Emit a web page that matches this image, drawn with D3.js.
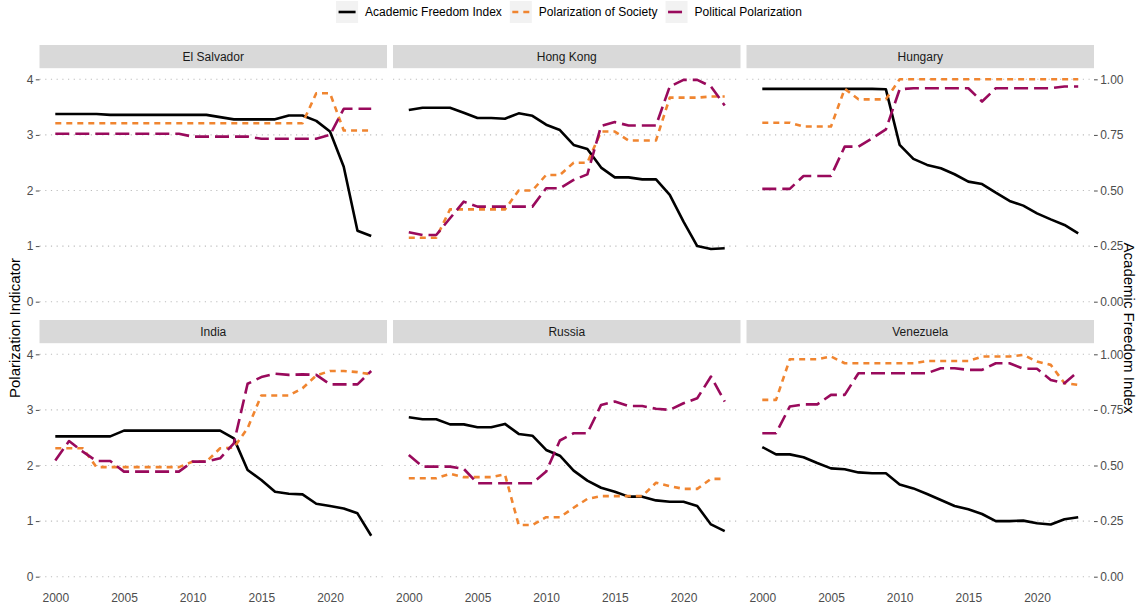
<!DOCTYPE html>
<html>
<head>
<meta charset="utf-8">
<script src="https://cdn.jsdelivr.net/npm/d3@7/dist/d3.min.js"></script>
<style>
  html, body { margin: 0; padding: 0; background: #fff; }
  svg { display: block; font-family: "Liberation Sans", Arial, sans-serif; }
</style>
</head>
<body>
<svg id="chart" width="1138" height="610"></svg>
<script>
// ---------------- DATA ----------------
const years = [2000,2001,2002,2003,2004,2005,2006,2007,2008,2009,2010,2011,2012,2013,2014,2015,2016,2017,2018,2019,2020,2021,2022,2023];
const countries = ["El Salvador", "Hong Kong", "Hungary", "India", "Russia", "Venezuela"];
const seriesNames = ["Academic Freedom Index", "Polarization of Society", "Political Polarization"];
const yTicksLeft = [0, 1, 2, 3, 4];
const yTicksRight = [0, 0.25, 0.5, 0.75, 1];
const xTicks = [2000, 2005, 2010, 2015, 2020];

// Academic Freedom Index (0-1, right axis)
const afiElSalvador = [0.844,0.844,0.844,0.844,0.840,0.840,0.840,0.840,0.840,0.840,0.840,0.840,0.830,0.820,0.820,0.820,0.820,0.837,0.837,0.813,0.765,0.607,0.319,0.295];
const afiHongKong   = [0.862,0.872,0.872,0.872,0.850,0.826,0.826,0.823,0.847,0.836,0.796,0.772,0.705,0.687,0.603,0.559,0.559,0.550,0.550,0.480,0.360,0.250,0.237,0.240];
const afiHungary    = [0.957,0.957,0.957,0.957,0.957,0.957,0.957,0.957,0.957,0.955,0.705,0.642,0.615,0.600,0.573,0.540,0.529,0.490,0.453,0.432,0.397,0.370,0.345,0.307];
const afiIndia      = [0.631,0.631,0.631,0.631,0.631,0.657,0.657,0.657,0.657,0.657,0.657,0.657,0.657,0.622,0.480,0.435,0.382,0.373,0.370,0.328,0.318,0.307,0.285,0.184];
const afiRussia     = [0.717,0.708,0.708,0.685,0.685,0.672,0.672,0.687,0.642,0.634,0.570,0.544,0.477,0.432,0.400,0.382,0.360,0.360,0.343,0.337,0.337,0.318,0.235,0.205];
const afiVenezuela  = [0.583,0.550,0.550,0.537,0.511,0.487,0.483,0.469,0.465,0.465,0.415,0.397,0.372,0.345,0.318,0.303,0.282,0.250,0.250,0.252,0.240,0.235,0.258,0.267];

// Polarization of Society (0-4, left axis)
const socElSalvador = [3.21,3.21,3.21,3.21,3.21,3.21,3.21,3.21,3.21,3.21,3.21,3.21,3.21,3.21,3.21,3.21,3.21,3.21,3.21,3.75,3.75,3.08,3.08,3.08];
const socHongKong   = [1.15,1.15,1.15,1.66,1.66,1.66,1.66,1.66,2.00,2.00,2.28,2.28,2.50,2.50,3.06,3.06,2.90,2.90,2.90,3.67,3.67,3.67,3.69,3.69];
const socHungary    = [3.22,3.22,3.22,3.15,3.15,3.15,3.83,3.64,3.64,3.64,4.00,4.00,4.00,4.00,4.00,4.00,4.00,4.00,4.00,4.00,4.00,4.00,4.00,4.00];
const socIndia      = [2.31,2.31,2.31,1.97,1.97,1.97,1.97,1.97,1.97,1.97,2.07,2.07,2.31,2.32,2.67,3.26,3.26,3.26,3.39,3.62,3.70,3.70,3.68,3.64];
const socRussia     = [1.77,1.77,1.77,1.85,1.79,1.79,1.79,1.84,0.93,0.93,1.07,1.07,1.24,1.40,1.45,1.45,1.45,1.45,1.69,1.63,1.58,1.58,1.76,1.76];
const socVenezuela  = [3.18,3.18,3.91,3.91,3.91,3.96,3.84,3.84,3.84,3.84,3.84,3.84,3.88,3.88,3.88,3.88,3.96,3.96,3.96,3.99,3.87,3.81,3.48,3.45];

// Political Polarization (0-4, left axis)
const polElSalvador = [3.02,3.02,3.02,3.02,3.02,3.02,3.02,3.02,3.02,3.02,2.97,2.97,2.97,2.97,2.97,2.93,2.93,2.93,2.93,2.93,3.00,3.47,3.47,3.47];
const polHongKong   = [1.25,1.20,1.20,1.50,1.80,1.71,1.71,1.71,1.71,1.71,2.04,2.04,2.19,2.29,3.16,3.23,3.17,3.17,3.17,3.87,3.99,3.99,3.87,3.53];
const polHungary    = [2.03,2.03,2.03,2.26,2.26,2.26,2.79,2.79,2.94,3.10,3.82,3.84,3.84,3.84,3.84,3.84,3.60,3.84,3.84,3.84,3.84,3.84,3.87,3.87];
const polIndia      = [2.09,2.44,2.25,2.08,2.08,1.89,1.89,1.89,1.89,1.89,2.07,2.07,2.13,2.40,3.47,3.59,3.65,3.63,3.64,3.63,3.46,3.46,3.46,3.70];
const polRussia     = [2.19,1.98,1.98,1.98,1.94,1.68,1.68,1.68,1.68,1.68,1.89,2.45,2.58,2.58,3.09,3.15,3.07,3.07,3.02,3.00,3.12,3.21,3.60,3.15];
const polVenezuela  = [2.58,2.58,3.06,3.10,3.10,3.27,3.27,3.66,3.66,3.66,3.66,3.66,3.66,3.75,3.75,3.72,3.72,3.84,3.84,3.74,3.74,3.54,3.48,3.69];

const afiData = [afiElSalvador, afiHongKong, afiHungary, afiIndia, afiRussia, afiVenezuela];
const socData = [socElSalvador, socHongKong, socHungary, socIndia, socRussia, socVenezuela];
const polData = [polElSalvador, polHongKong, polHungary, polIndia, polRussia, polVenezuela];

// ---------------- STYLE ----------------
const colors = { afi: "#000000", soc: "#F08530", pol: "#990A5C" };
const dashes = { afi: null, soc: "6,5", pol: "14,6" };
const lineW = 2.6;

const svg = d3.select("#chart");
const panelW = 347.5, panelH = 244.6, stripH = 23.2;
const colX = [39.5, 393, 746.5];
const rowY = [68.2, 343.2]; // panel tops

const x = d3.scaleLinear().domain([2000 - 1.15, 2023 + 1.15]).range([0, panelW]);
const y = d3.scaleLinear().domain([-0.2, 4.2]).range([panelH, 0]);
const yR = d3.scaleLinear().domain([-0.05, 1.05]).range([panelH, 0]);

const line = d3.line().x(d => x(d[0])).y(d => y(d[1]));

countries.forEach((name, i) => {
  const col = i % 3, row = Math.floor(i / 3);
  const g = svg.append("g").attr("transform", `translate(${colX[col]},${rowY[row]})`);

  // strip
  g.append("rect").attr("x", 0).attr("y", -stripH).attr("width", panelW).attr("height", stripH).attr("fill", "#d9d9d9");
  g.append("text").attr("x", panelW / 2).attr("y", -stripH / 2).attr("dy", "0.35em")
    .attr("text-anchor", "middle").attr("font-size", 12).attr("fill", "#1a1a1a").text(name);

  // gridlines
  g.selectAll(".grid").data(yTicksLeft).enter().append("line")
    .attr("x1", 0).attr("x2", panelW).attr("y1", d => y(d)).attr("y2", d => y(d))
    .attr("stroke", "#bdbdbd").attr("stroke-width", 1.1).attr("stroke-dasharray", "1.2,4.5");

  // lines
  const sets = [
    { key: "afi", vals: afiData[i].map(v => v * 4) },
    { key: "soc", vals: socData[i] },
    { key: "pol", vals: polData[i] }
  ];
  sets.forEach(s => {
    const pts = years.map((yr, k) => [yr, s.vals[k]]);
    g.append("path").datum(pts).attr("d", line).attr("fill", "none")
      .attr("stroke", colors[s.key]).attr("stroke-width", lineW)
      .attr("stroke-linejoin", "round")
      .attr("stroke-dasharray", dashes[s.key]);
  });

  // axes
  if (col === 0) {
    const ax = g.append("g").call(d3.axisLeft(y).tickValues(yTicksLeft).tickSize(3.7).tickPadding(2.5).tickFormat(d3.format("d")));
    ax.select(".domain").remove();
    ax.selectAll("line").attr("stroke", "#4d4d4d");
    ax.selectAll("text").attr("font-size", 12).attr("fill", "#4d4d4d").attr("font-family", "Liberation Sans, Arial, sans-serif");
  }
  if (col === 2) {
    const ax = g.append("g").attr("transform", `translate(${panelW},0)`)
      .call(d3.axisRight(yR).tickValues(yTicksRight).tickSize(3.7).tickPadding(2.5).tickFormat(d3.format(".2f")));
    ax.select(".domain").remove();
    ax.selectAll("line").attr("stroke", "#4d4d4d");
    ax.selectAll("text").attr("font-size", 12).attr("fill", "#4d4d4d").attr("font-family", "Liberation Sans, Arial, sans-serif");
  }
  if (row === 1) {
    const ax = g.append("g").attr("transform", `translate(0,${panelH})`)
      .call(d3.axisBottom(x).tickValues(xTicks).tickSize(0).tickPadding(5.5).tickFormat(d3.format("d")));
    ax.select(".domain").remove();
    ax.selectAll("text").attr("font-size", 12).attr("fill", "#4d4d4d").attr("font-family", "Liberation Sans, Arial, sans-serif");
  }
});

// axis titles
const midY = (rowY[0] + rowY[1] + panelH) / 2;
svg.append("text").attr("transform", `translate(15,${midY}) rotate(-90)`).attr("text-anchor", "middle")
  .attr("dy", "0.35em").attr("font-size", 15).attr("fill", "#000").text("Polarization Indicator");
svg.append("text").attr("transform", `translate(1129,${midY}) rotate(90)`).attr("text-anchor", "middle")
  .attr("dy", "0.35em").attr("font-size", 15).attr("fill", "#000").text("Academic Freedom Index");

// legend
const leg = svg.append("g");
const keyW = 22, keyGap = 7, itemGap = 8;
let cx = 0;
const items = [];
seriesNames.forEach((nm, k) => {
  const key = ["afi", "soc", "pol"][k];
  const it = leg.append("g").attr("transform", `translate(${cx},0)`);
  it.append("rect").attr("x", 0).attr("y", 1).attr("width", keyW).attr("height", keyW).attr("fill", "#f2f2f2");
  it.append("line").attr("x1", 2.5).attr("x2", keyW - 2.5).attr("y1", 12).attr("y2", 12)
    .attr("stroke", colors[key]).attr("stroke-width", lineW).attr("stroke-dasharray", dashes[key]);
  const t = it.append("text").attr("x", keyW + keyGap).attr("y", 12).attr("dy", "0.35em")
    .attr("font-size", 12).attr("fill", "#000").text(nm);
  const w = t.node().getComputedTextLength();
  cx += keyW + keyGap + w + itemGap;
});
const totalW = cx - itemGap;
leg.attr("transform", `translate(${(1138 - totalW) / 2},0)`);
</script>
</body>
</html>
